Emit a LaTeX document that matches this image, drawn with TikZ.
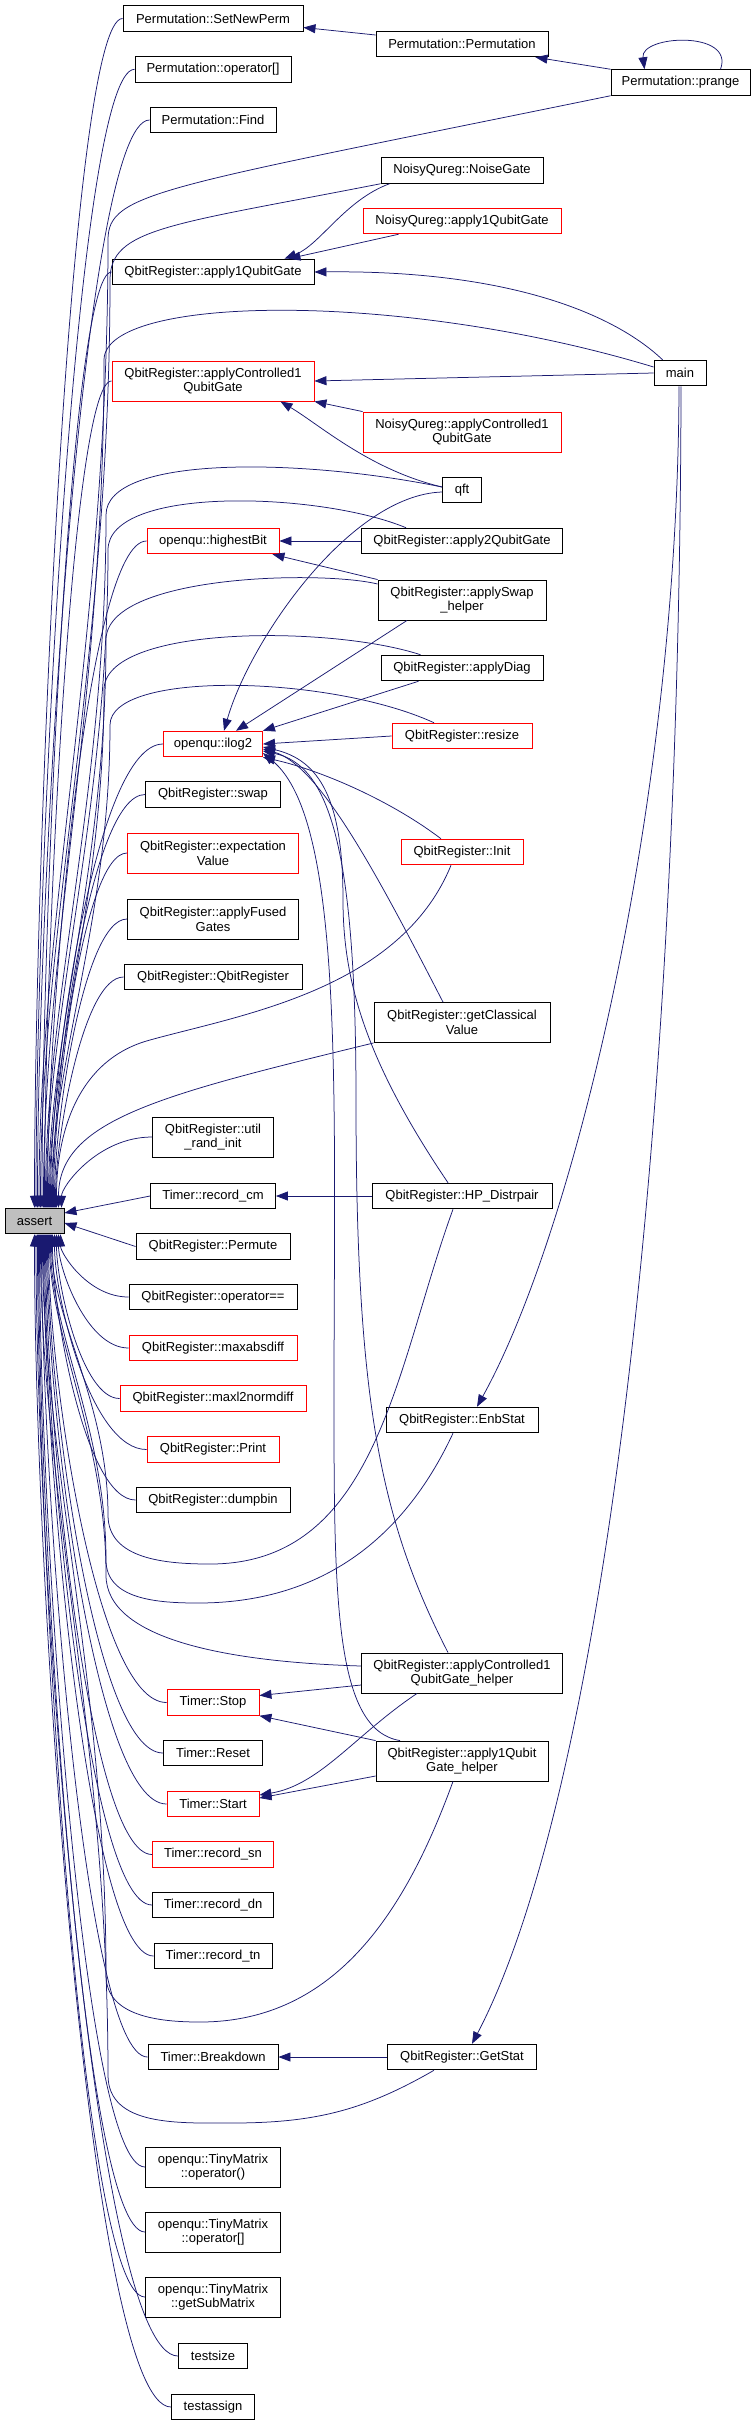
\documentclass[tikz,border=0pt]{standalone}
\usepackage{fontspec}
\setmainfont{Liberation Sans}
\usetikzlibrary{arrows.meta,calc}

\definecolor{linkblue}{RGB}{25,25,112}
\definecolor{boxred}{RGB}{255,0,0}
\definecolor{boxgray}{RGB}{191,191,191}

\tikzset{
  func/.style={draw=black, fill=white, line width=0.9pt, inner sep=0pt, minimum height=25.6pt,
    align=center, font=\fontsize{13}{14.7}\selectfont},
  funcred/.style={func, draw=boxred},
  twoline/.style={minimum height=40pt},
  call/.style={draw=linkblue, line width=0.75pt, -{Triangle[length=12pt,width=9pt]}},
  callarc/.style={to path={let \p1=(\tikztostart), \p2=(\tikztotarget) in
      .. controls ({0.4*\x1+0.6*\x2},\y1) and (\x2,{\y2+0.3*(\y1-\y2)}) .. (\tikztotarget)}},
  vbend/.style={to path={let \p1=(\tikztostart), \p2=(\tikztotarget) in
      .. controls (\x1,{\y1+0.4*(\y2-\y1)}) and (\x2,{\y2+0.3*(\y1-\y2)}) .. (\tikztotarget)}}
}

\begin{document}
\begin{tikzpicture}[x=1pt, y=1pt]
        \fill[white] (0,0) rectangle (752,-2425);
        \useasboundingbox (0,0) rectangle (752,-2425);

        % Permutation
        \node[func, minimum width=180pt] (setnewperm) at (213,-18.5) {Permutation::SetNewPerm};
        \node[func, minimum width=156pt] (permop) at (213,-69.3) {Permutation::operator[]};
        \node[func, minimum width=126pt] (permfind) at (213,-120) {Permutation::Find};
        \node[func, minimum width=172pt] (permctor) at (462,-44) {Permutation::Permutation};
        \node[func, minimum width=139pt] (prange) at (680.5,-82.5) {Permutation::prange};

        % gates
        \node[func, minimum width=162pt] (noisegate) at (462,-170.5) {NoisyQureg::NoiseGate};
        \node[funcred, minimum width=198pt] (noisyone) at (462,-221) {NoisyQureg::apply1QubitGate};
        \node[func, minimum width=202pt] (onegate) at (213,-272) {QbitRegister::apply1QubitGate};
        \node[func, minimum width=52pt] (main) at (680,-373) {main};
        \node[funcred, twoline, minimum width=202pt] (ctrlgate) at (213,-381) {QbitRegister::applyControlled1\\QubitGate};
        \node[funcred, twoline, minimum width=198pt] (noisyctrl) at (462,-432) {NoisyQureg::applyControlled1\\QubitGate};
        \node[func, minimum width=39pt] (qft) at (462,-490) {qft};
        \node[funcred, minimum width=132pt] (highbit) at (213,-541) {openqu::highestBit};
        \node[func, minimum width=201pt] (twogate) at (462,-541) {QbitRegister::apply2QubitGate};
        \node[func, twoline, minimum width=168pt] (swaphelp) at (462,-600) {QbitRegister::applySwap\\\_helper};
        \node[func, minimum width=162pt] (diag) at (462,-668) {QbitRegister::applyDiag};
        \node[funcred, minimum width=140pt] (resize) at (462,-736) {QbitRegister::resize};
        \node[funcred, minimum width=99pt] (ilog) at (213,-744) {openqu::ilog2};

        % register
        \node[func, minimum width=135pt] (swap) at (213,-794.5) {QbitRegister::swap};
        \node[funcred, twoline, minimum width=171pt] (expval) at (213,-853) {QbitRegister::expectation\\Value};
        \node[funcred, minimum width=122pt] (init) at (462,-852) {QbitRegister::Init};
        \node[func, twoline, minimum width=171pt] (fused) at (213,-919) {QbitRegister::applyFused\\Gates};
        \node[func, minimum width=178pt] (qreg) at (213,-977) {QbitRegister::QbitRegister};
        \node[func, twoline, minimum width=176pt] (classical) at (462,-1022.5) {QbitRegister::getClassical\\Value};
        \node[func, twoline, minimum width=121pt] (randinit) at (213,-1137) {QbitRegister::util\\\_rand\_init};
        \node[func, minimum width=125pt] (recordcm) at (213,-1196) {Timer::record\_cm};
        \node[func, minimum width=180pt] (distrpair) at (462,-1196) {QbitRegister::HP\_Distrpair};
        \node[func, fill=boxgray, minimum width=59pt] (assert) at (34.5,-1221) {assert};
        \node[func, minimum width=154pt] (permute) at (213,-1246.5) {QbitRegister::Permute};
        \node[func, minimum width=168pt] (opeq) at (213,-1297) {QbitRegister::operator==};
        \node[funcred, minimum width=168pt] (maxabs) at (213,-1348) {QbitRegister::maxabsdiff};
        \node[funcred, minimum width=186pt] (maxltwo) at (213,-1398.5) {QbitRegister::maxl2normdiff};
        \node[func, minimum width=152pt] (enbstat) at (462,-1420) {QbitRegister::EnbStat};
        \node[funcred, minimum width=132pt] (print) at (213,-1449.5) {QbitRegister::Print};
        \node[func, minimum width=154pt] (dumpbin) at (213,-1500) {QbitRegister::dumpbin};

        % timers
        \node[func, twoline, minimum width=201pt] (ctrlhelp) at (462,-1673) {QbitRegister::applyControlled1\\QubitGate\_helper};
        \node[funcred, minimum width=92pt] (tstop) at (213,-1702.5) {Timer::Stop};
        \node[func, minimum width=99pt] (treset) at (213,-1753) {Timer::Reset};
        \node[func, twoline, minimum width=172pt] (onehelp) at (462,-1761) {QbitRegister::apply1Qubit\\Gate\_helper};
        \node[funcred, minimum width=92pt] (tstart) at (213,-1804) {Timer::Start};
        \node[funcred, minimum width=121pt] (recordsn) at (213,-1854.5) {Timer::record\_sn};
        \node[func, minimum width=121pt] (recorddn) at (213,-1905) {Timer::record\_dn};
        \node[func, minimum width=118pt] (recordtn) at (213,-1956) {Timer::record\_tn};
        \node[func, minimum width=130pt] (breakdown) at (213,-2057) {Timer::Breakdown};
        \node[func, minimum width=149pt] (getstat) at (462,-2057) {QbitRegister::GetStat};

        % tiny matrix and tests
        \node[func, twoline, minimum width=135pt] (tmcall) at (213,-2167) {openqu::TinyMatrix\\::operator()};
        \node[func, twoline, minimum width=135pt] (tmindex) at (213,-2232) {openqu::TinyMatrix\\::operator[]};
        \node[func, twoline, minimum width=135pt] (tmsub) at (213,-2297) {openqu::TinyMatrix\\::getSubMatrix};
        \node[func, minimum width=69pt] (testsize) at (213,-2356) {testsize};
        \node[func, minimum width=83pt] (testassign) at (213,-2407) {testassign};

        % Permutation calls
        \draw[call] (prange.north west) -- ([xshift=-13pt]permctor.south east);
        \draw[call] ([yshift=9pt]permctor.west) -- ([yshift=-9pt]setnewperm.east);
        \draw[call] ([xshift=40pt]prange.north) .. controls (735,-30) and (640,-35) .. ([xshift=-36pt]prange.north);
        \draw[call] (setnewperm.west) to[callarc] (assert.north);
        \draw[call] (permop.west) to[callarc] ([xshift=1.5pt]assert.north);
        \draw[call] (permfind.west) to[callarc] ([xshift=3pt]assert.north);
        \draw[call] (prange.south west) .. controls (160,-188) and (108,-192) .. (108,-240) to[vbend] ([xshift=4.5pt]assert.north);

        % gate calls
        \draw[call] (noisegate.south west) .. controls (170,-225) and (110,-228) .. (110,-280) to[vbend] ([xshift=6pt]assert.north);
        \draw[call] ([xshift=9pt]noisegate.south west) .. controls (345,-200) and (320,-245) .. ([xshift=-30pt]onegate.north east);
        \draw[call] ([xshift=36pt]noisyone.south west) -- ([xshift=-26pt]onegate.north east);
        \draw[call] (onegate.west) to[callarc] ([xshift=7.5pt]assert.north);
        \draw[call] ([xshift=9pt]main.north west) .. controls (610,-310) and (500,-270) .. (onegate.east);
        \draw[call] ([yshift=6pt]main.west) .. controls (400,-290) and (104,-295) .. (104,-360) to[vbend] ([xshift=9pt]assert.north);
        \draw[call] (main.west) -- (ctrlgate.east);
        \draw[call] ([xshift=-1pt]main.south) .. controls (678,-800) and (575,-1230) .. ([xshift=15pt]enbstat.north);
        \draw[call] ([xshift=1pt]main.south) .. controls (680,-1150) and (600,-1800) .. ([xshift=10pt]getstat.north);
        \draw[call] (ctrlgate.west) to[callarc] ([xshift=10pt]assert.north);
        \draw[call] (noisyctrl.north west) -- (ctrlgate.south east);
        \draw[call] ([yshift=3pt]qft.west) .. controls (370,-470) and (320,-425) .. ([xshift=-34pt]ctrlgate.south east);
        \draw[call] ([yshift=3pt]qft.west) .. controls (300,-458) and (106,-455) .. (106,-515) to[vbend] ([xshift=11pt]assert.north);
        \draw[call] ([yshift=-2pt]qft.west) .. controls (350,-495) and (250,-640) .. ([xshift=11pt]ilog.north);
        \draw[call] (twogate.west) -- (highbit.east);
        \draw[call] ([xshift=45pt]twogate.north west) .. controls (320,-492) and (108,-485) .. (108,-550) to[vbend] ([xshift=12pt]assert.north);
        \draw[call] (highbit.west) to[callarc] ([xshift=13pt]assert.north);
        \draw[call] (swaphelp.north west) -- ([xshift=-7pt]highbit.south east);
        \draw[call] ([yshift=16pt]swaphelp.west) .. controls (320,-570) and (106,-575) .. (106,-640) to[vbend] ([xshift=14pt]assert.north);
        \draw[call] ([xshift=-55pt]swaphelp.south) -- ([xshift=23pt]ilog.north);
        \draw[call] ([xshift=40pt]diag.north west) .. controls (330,-625) and (104,-625) .. (104,-690) to[vbend] ([xshift=15pt]assert.north);
        \draw[call] ([xshift=38pt]diag.south west) -- (ilog.north east);
        \draw[call] (ilog.west) to[callarc] ([xshift=16pt]assert.north);
        \draw[call] (resize.west) -- (ilog.east);
        \draw[call] ([xshift=-28pt]resize.north) .. controls (330,-675) and (110,-670) .. (110,-725) to[vbend] ([xshift=17pt]assert.north);

        % register calls
        \draw[call] (swap.west) to[callarc] ([xshift=18pt]assert.north);
        \draw[call] (expval.west) to[callarc] ([xshift=19pt]assert.north);
        \draw[call] (fused.west) to[callarc] ([xshift=20pt]assert.north);
        \draw[call] (qreg.west) to[callarc] ([xshift=21pt]assert.north);
        \draw[call] ([xshift=-21pt]init.north) .. controls (390,-800) and (320,-770) .. (ilog.south east);
        \draw[call] ([xshift=-11pt]init.south) .. controls (400,-990) and (240,-1015) .. (150,-1040) to[out=195, in=90] ([xshift=22pt]assert.north);
        \draw[call] ([xshift=-19pt]classical.north) .. controls (380,-880) and (320,-765) .. ([yshift=-5pt]ilog.east);
        \draw[call] (classical.south west) .. controls (160,-1095) and (58.5,-1120) .. ([xshift=24pt]assert.north);
        \draw[call] (randinit.west) to[callarc] ([xshift=27pt]assert.north);
        \draw[call] (recordcm.west) -- ([yshift=8pt]assert.east);
        \draw[call] (distrpair.west) -- (recordcm.east);
        \draw[call] ([xshift=-14pt]distrpair.north) .. controls (365,-1060) and (343,-980) .. (343,-900) .. controls (343,-800) and (320,-760) .. ([yshift=-3pt]ilog.east);
        \draw[call] ([xshift=-9pt]distrpair.south) to[out=250, in=0] (210,-1564) to[out=180, in=270] (108,-1515) to[vbend] ([xshift=17pt]assert.south);
        \draw[call] (permute.west) -- ([yshift=-2pt]assert.east);
        \draw[call] (opeq.west) to[callarc] ([xshift=26pt]assert.south);
        \draw[call] (maxabs.west) to[callarc] ([xshift=24pt]assert.south);
        \draw[call] (maxltwo.west) to[callarc] ([xshift=22pt]assert.south);
        \draw[call] (print.west) to[callarc] ([xshift=20pt]assert.south);
        \draw[call] (dumpbin.west) to[callarc] ([xshift=18pt]assert.south);
        \draw[call] ([xshift=-9pt]enbstat.south) to[out=245, in=0] (198,-1603) to[out=180, in=270] (106,-1560) to[vbend] ([xshift=16pt]assert.south);

        % timer calls
        \draw[call] ([yshift=7pt]ctrlhelp.west) .. controls (230,-1662) and (106,-1640) .. (106,-1575) to[vbend] ([xshift=15pt]assert.south);
        \draw[call] ([yshift=-12pt]ctrlhelp.west) -- ([yshift=7pt]tstop.east);
        \draw[call] ([xshift=-14pt]ctrlhelp.north) .. controls (380,-1520) and (356,-1400) .. (356,-1100) .. controls (356,-850) and (330,-765) .. ([yshift=-7pt]ilog.east);
        \draw[call] ([xshift=-45pt]ctrlhelp.south) .. controls (355,-1735) and (320,-1785) .. ([yshift=9pt]tstart.east);
        \draw[call] (onehelp.north west) -- (tstop.south east);
        \draw[call] ([yshift=-15pt]onehelp.west) -- ([yshift=6pt]tstart.east);
        \draw[call] ([xshift=-62pt]onehelp.north) .. controls (335,-1730) and (334,-1600) .. (334,-1400) .. controls (334,-1100) and (345,-820) .. ([yshift=-9pt]ilog.east);
        \draw[call] ([xshift=-9pt]onehelp.south) to[out=250, in=0] (200,-2022) to[out=180, in=270] (106,-1975) to[vbend] ([xshift=8pt]assert.south);
        \draw[call] (tstop.west) to[callarc] ([xshift=14pt]assert.south);
        \draw[call] (treset.west) to[callarc] ([xshift=13pt]assert.south);
        \draw[call] (tstart.west) to[callarc] ([xshift=12pt]assert.south);
        \draw[call] (recordsn.west) to[callarc] ([xshift=11pt]assert.south);
        \draw[call] (recorddn.west) to[callarc] ([xshift=10pt]assert.south);
        \draw[call] (recordtn.west) to[callarc] ([xshift=9pt]assert.south);
        \draw[call] (breakdown.west) to[callarc] ([xshift=7pt]assert.south);
        \draw[call] (getstat.west) -- (breakdown.east);
        \draw[call] ([xshift=-28pt]getstat.south) to[out=210, in=0] (231,-2123) to[out=180, in=270] (108,-2075) to[vbend] ([xshift=6pt]assert.south);

        % tiny matrix and tests
        \draw[call] (tmcall.west) to[callarc] ([xshift=5pt]assert.south);
        \draw[call] (tmindex.west) to[callarc] ([xshift=4pt]assert.south);
        \draw[call] (tmsub.west) to[callarc] ([xshift=3pt]assert.south);
        \draw[call] (testsize.west) to[callarc] ([xshift=1.5pt]assert.south);
        \draw[call] (testassign.west) to[callarc] (assert.south);
\end{tikzpicture}
\end{document}
